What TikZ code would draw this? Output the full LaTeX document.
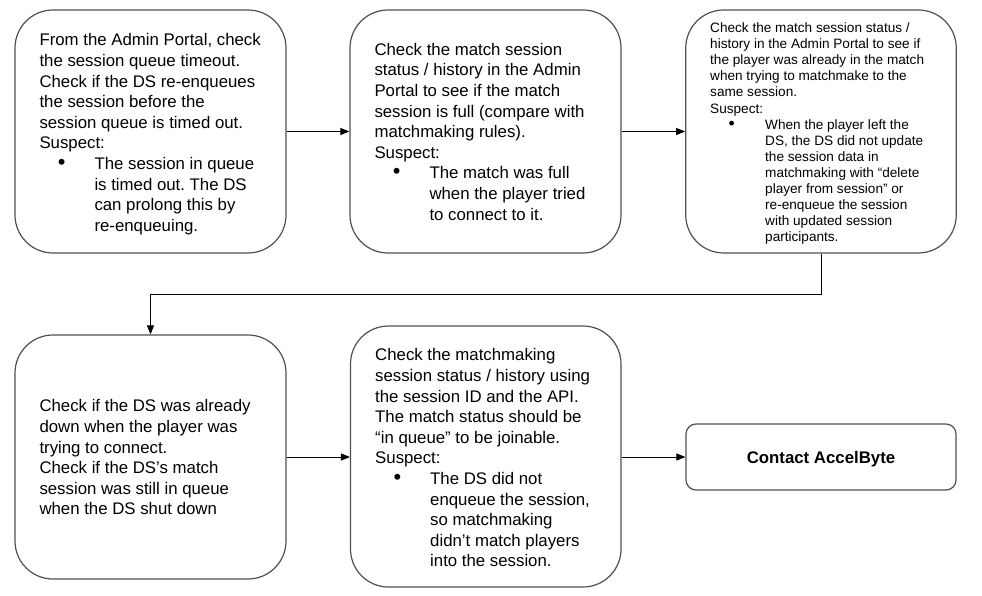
\documentclass[tikz,border=0pt]{standalone}
\usepackage{fontspec}
\usepackage{graphicx}
\setmainfont{Liberation Sans}
\usetikzlibrary{arrows.meta}
\frenchspacing
\definecolor{boxline}{RGB}{80,80,80}
\newcommand{\bul}[1]{\makebox[55pt][l]{\hspace{18.4pt}\scalebox{1.3}{•}}#1}
\newcommand{\cnt}[1]{\makebox[55pt]{}#1}
\tikzset{
  box/.style={draw=boxline, line width=1.2pt, rounded corners=38pt, inner sep=0pt, fill=white},
  smallbox/.style={draw=boxline, line width=1.2pt, rounded corners=10pt, inner sep=0pt, fill=white},
  txt/.style={anchor=north west, inner sep=0pt, align=left, font=\fontsize{16.8}{20.6}\selectfont},
  smalltxt/.style={anchor=north west, inner sep=0pt, align=left, font=\fontsize{13.6}{16.1}\selectfont},
  conn/.style={draw=black, line width=1pt, -{Triangle[length=9pt,width=7pt]}}
}
\begin{document}
\begin{tikzpicture}[x=1pt,y=-1pt]
\useasboundingbox[fill=white] (0,0) rectangle (982,596);
\node[box, minimum width=271pt, minimum height=243pt] (b1) at (150.5,131.5) {};
\node[box, minimum width=271pt, minimum height=243pt] (b2) at (485.5,131.5) {};
\node[box, minimum width=270.5pt, minimum height=243pt] (b3) at (821,131.5) {};
\node[box, minimum width=271pt, minimum height=244pt] (b4) at (150.5,457) {};
\node[box, minimum width=270.5pt, minimum height=261pt] (b5) at (485.75,456.5) {};
\node[smallbox, minimum width=270pt, minimum height=66pt, text height=12pt, text depth=0pt, font=\fontsize{16.8}{20.6}\selectfont\bfseries] (b6) at (821,457) {Contact AccelByte};

\node[txt] (t1) at (39.3,31.3) {\strut From the Admin Portal, check\\the session queue timeout.\\Check if the DS re-enqueues\\the session before the\\session queue is timed out.\\Suspect:\\\bul{The session in queue}\\\cnt{is timed out. The DS}\\\cnt{can prolong this by}\\\cnt{re-enqueuing.}};

\node[txt] (t2) at (374.3,40.6) {\strut Check the match session\\status / history in the Admin\\Portal to see if the match\\session is full (compare with\\matchmaking rules).\\Suspect:\\\bul{The match was full}\\\cnt{when the player tried}\\\cnt{to connect to it.}};

\node[smalltxt] (t3) at (710,21.1) {\strut Check the match session status /\\history in the Admin Portal to see if\\the player was already in the match\\when trying to matchmake to the\\same session.\\Suspect:\\\bul{When the player left the}\\\cnt{DS, the DS did not update}\\\cnt{the session data in}\\\cnt{matchmaking with “delete}\\\cnt{player from session” or}\\\cnt{re-enqueue the session}\\\cnt{with updated session}\\\cnt{participants.}};

\node[txt] (t4) at (39.3,397.3) {\strut Check if the DS was already\\down when the player was\\trying to connect.\\Check if the DS’s match\\session was still in queue\\when the DS shut down};

\node[txt] (t5) at (375,346.3) {\strut Check the matchmaking\\session status / history using\\the session ID and the API.\\The match status should be\\“in queue” to be joinable.\\Suspect:\\\bul{The DS did not}\\\cnt{enqueue the session,}\\\cnt{so matchmaking}\\\cnt{didn’t match players}\\\cnt{into the session.}};

\coordinate (turn) at (821,294);
\draw[conn] (b1.east) -- (b2.west);
\draw[conn] (b2.east) -- (b3.west);
\draw[conn] (b3.south) -- (turn) -| (b4.north);
\draw[conn] (b4.east) -- (b5.west |- b4.east);
\draw[conn] (b5.east |- b6.west) -- (b6.west);
\end{tikzpicture}
\end{document}
